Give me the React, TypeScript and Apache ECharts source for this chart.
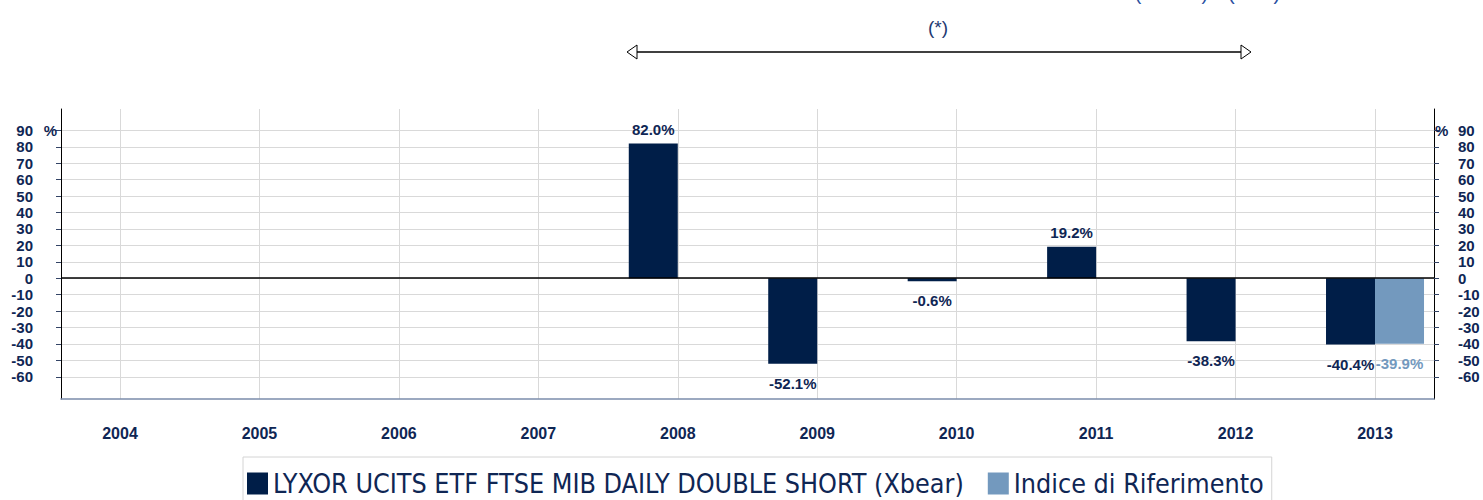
import React, { useEffect, useRef } from "react";
import * as echarts from "echarts";

const years = [2004, 2005, 2006, 2007, 2008, 2009, 2010, 2011, 2012, 2013];
const fundValues: (number | null)[] = [null, null, null, null, 82.0, -52.1, -0.6, 19.2, -38.3, -40.4];
const indexValues: (number | null)[] = [null, null, null, null, null, null, null, null, null, -39.9];
const yTicks = [-60, -50, -40, -30, -20, -10, 0, 10, 20, 30, 40, 50, 60, 70, 80, 90];
const fundName = "LYXOR UCITS ETF FTSE MIB DAILY DOUBLE SHORT (Xbear)";
const indexName = "Indice di Riferimento";

const NAVY = "#001e48";
const LIGHT = "#7399be";
const TEXT = "#0f2654";

function buildData(vals: (number | null)[]) {
  const out: any[] = [];
  vals.forEach((v, i) => {
    if (v === null) return;
    out.push({
      value: [years[i], v],
      label: { position: v >= 0 ? "top" : "bottom", distance: v >= 0 ? 7 : 12 },
    });
  });
  return out;
}

export default function App() {
  const ref = useRef<HTMLDivElement>(null);
  useEffect(() => {
    if (!ref.current) return;
    const chart = echarts.init(ref.current, null, { renderer: "svg" });
    const labelRich = {
      a: { fontSize: 15, fontWeight: "bold", color: TEXT, fontFamily: "Liberation Sans, Arial, sans-serif" },
    };
    chart.setOption({
      animation: false,
      textStyle: { fontFamily: "Liberation Sans, Arial, sans-serif" },
      grid: { left: 61, right: 49, top: 109, bottom: 101, containLabel: false },
      legend: {
        left: 243,
        top: 457,
        orient: "horizontal",
        icon: "rect",
        itemWidth: 21,
        itemHeight: 22,
        itemGap: 24,
        borderColor: "#d4d4d4",
        borderWidth: 1,
        padding: [13, 8, 30, 4],
        textStyle: {
          fontSize: 26.7,
          color: TEXT,
          fontFamily: "'Liberation Sans Narrow', 'Arial Narrow', 'DejaVu Sans Condensed', sans-serif",
        },
        data: [fundName, indexName],
      },
      xAxis: {
        type: "value",
        min: 2003.577,
        max: 2013.423,
        axisLine: { show: true, onZero: false, lineStyle: { color: "#7b8cab", width: 1.5 } },
        axisTick: { show: false, customValues: years },
        axisLabel: {
          customValues: years,
          margin: 26,
          fontSize: 16,
          fontWeight: "bold",
          color: TEXT,
          formatter: (v: number) => String(v),
        },
        splitLine: { show: true, lineStyle: { color: "#d9d9d9", width: 1 } },
      },
      yAxis: [
        {
          type: "value",
          position: "left",
          min: -73.5,
          max: 103,
          axisLine: { show: true, onZero: false, lineStyle: { color: "#000", width: 1 } },
          axisTick: { show: true, inside: false, length: 5, customValues: yTicks, lineStyle: { color: "#334466" } },
          axisLabel: {
            customValues: yTicks,
            margin: 4,
            formatter: (v: number) => (v === 90 ? `{a|${v}}{p|%}` : `{a|${v}}{p| }`),
            rich: {
              ...labelRich,
              p: { width: 24, align: "right", fontSize: 15, fontWeight: "bold", color: TEXT },
            },
          },
          splitLine: { show: true, lineStyle: { color: "#d9d9d9", width: 1 } },
        },
        {
          type: "value",
          position: "right",
          min: -73.5,
          max: 103,
          axisLine: { show: true, onZero: false, lineStyle: { color: "#000", width: 1 } },
          axisTick: { show: true, inside: false, length: 5, customValues: yTicks, lineStyle: { color: "#334466" } },
          axisLabel: {
            customValues: yTicks,
            margin: 1,
            formatter: (v: number) => (v === 90 ? `{p|%}{a|${v}}` : `{p| }{a|${v}}`),
            rich: {
              ...labelRich,
              p: { width: 23, align: "left", fontSize: 15, fontWeight: "bold", color: TEXT },
            },
          },
          splitLine: { show: false },
        },
      ],
      series: [
        {
          name: fundName,
          type: "bar",
          yAxisIndex: 0,
          barWidth: 49,
          barGap: "0%",
          barMinHeight: 3,
          itemStyle: { color: NAVY },
          label: {
            show: true,
            formatter: (p: any) => `${p.value[1].toFixed(1)}%`,
            fontSize: 15,
            fontWeight: "bold",
            color: TEXT,
          },
          data: buildData(fundValues),
          markLine: {
            silent: true,
            symbol: ["none", "none"],
            label: { show: false },
            lineStyle: { color: "#000", width: 1.5, type: "solid" },
            data: [{ yAxis: 0 }],
          },
        },
        {
          name: indexName,
          type: "bar",
          yAxisIndex: 0,
          barWidth: 49,
          barGap: "0%",
          itemStyle: { color: LIGHT },
          label: {
            show: true,
            formatter: (p: any) => `${p.value[1].toFixed(1)}%`,
            fontSize: 15,
            fontWeight: "bold",
            color: LIGHT,
          },
          data: buildData(indexValues),
        },
      ],
      graphic: [
        {
          type: "text",
          x: 1135,
          y: 3,
          style: { text: "(in EUR)", fontSize: 19, fill: "#2a4f9f", verticalAlign: "bottom" },
        },
        {
          type: "text",
          x: 1228,
          y: 3,
          style: { text: "(in %)", fontSize: 20, fill: "#2a4f9f", verticalAlign: "bottom" },
        },
        {
          type: "text",
          x: 938,
          y: 27,
          style: { text: "(*)", fontSize: 19, fill: "#1f3a72", align: "center", verticalAlign: "middle" },
        },
        {
          type: "line",
          shape: { x1: 637, y1: 52, x2: 1241, y2: 52 },
          style: { stroke: "#000", lineWidth: 1.5 },
        },
        {
          type: "polygon",
          shape: { points: [[627, 52], [637, 45], [637, 59]] },
          style: { fill: "#fff", stroke: "#000", lineWidth: 1 },
        },
        {
          type: "polygon",
          shape: { points: [[1251, 52], [1241, 45], [1241, 59]] },
          style: { fill: "#fff", stroke: "#000", lineWidth: 1 },
        },
      ],
    });
    return () => chart.dispose();
  }, []);
  return (
    <div
      ref={ref}
      style={{ position: "fixed", left: 0, top: 0, width: 1483, height: 500, background: "#fff" }}
    />
  );
}
